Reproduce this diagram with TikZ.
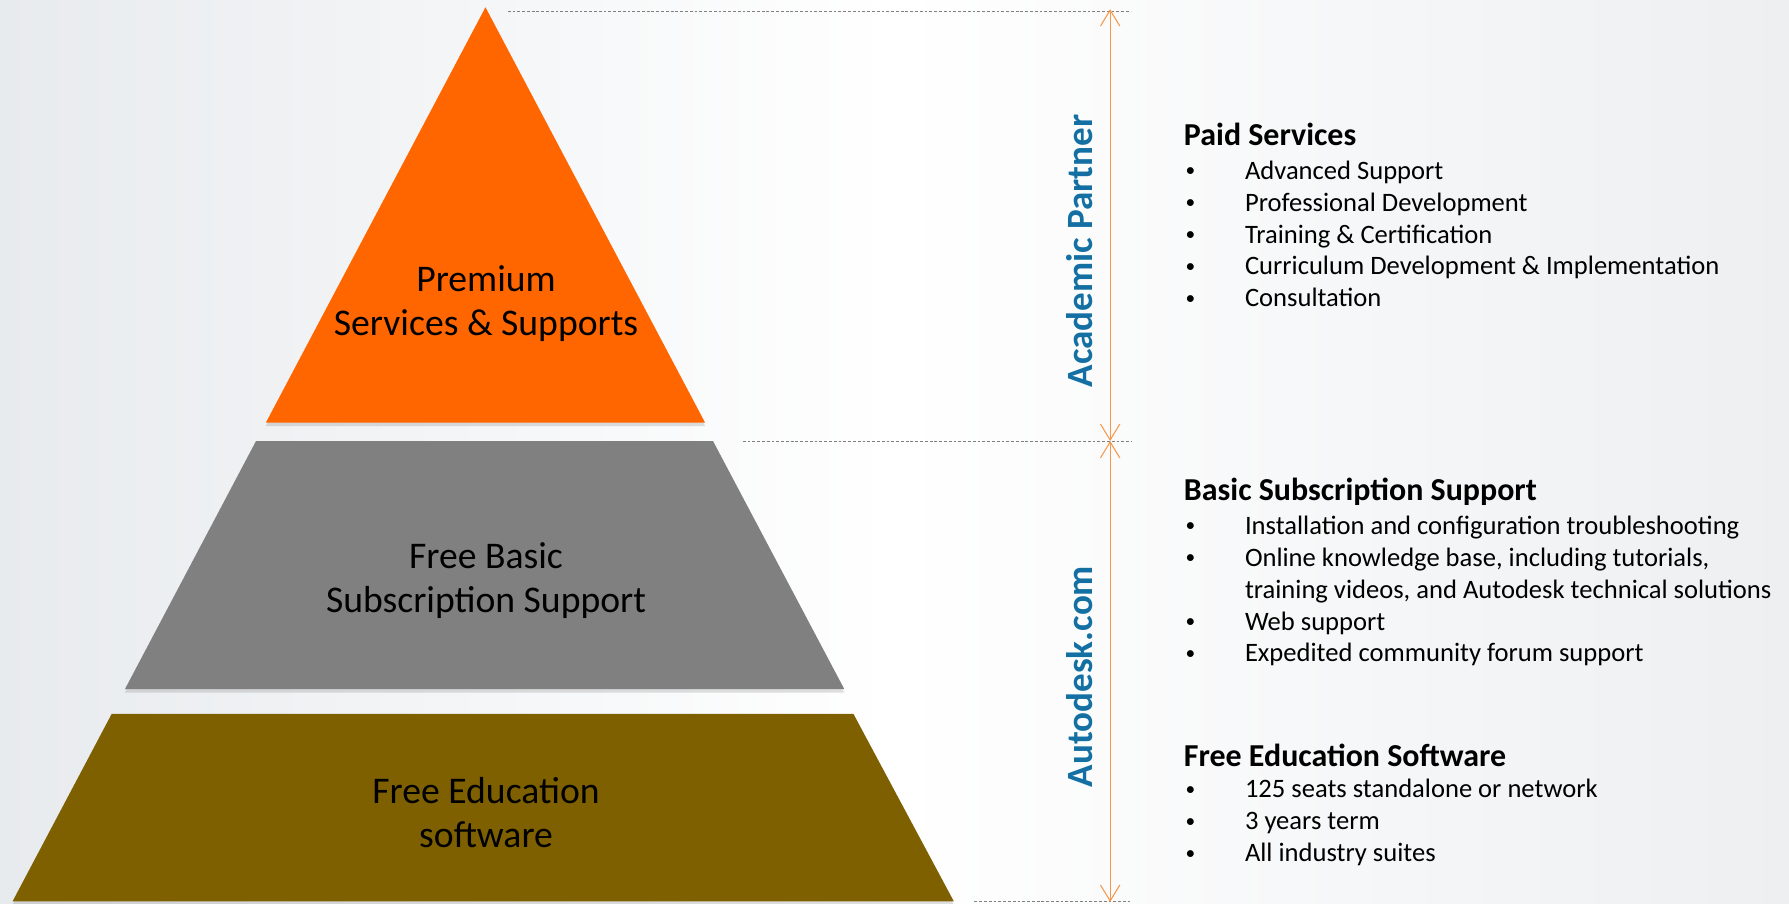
\documentclass[tikz,border=0pt]{standalone}
\usepackage{fontspec}
\setmainfont{Carlito}
\usetikzlibrary{arrows.meta}
\usetikzlibrary{shadows}

\definecolor{tierorange}{RGB}{255,102,0}
\definecolor{tiergray}{RGB}{128,128,128}
\definecolor{tierolive}{RGB}{127,96,0}
\definecolor{spanorange}{RGB}{247,150,70}
\definecolor{labelblue}{RGB}{20,112,163}
\definecolor{bgleft}{RGB}{232,235,238}
\definecolor{bgright}{RGB}{237,239,241}

\newcommand{\listbullet}{\makebox[54pt][l]{\hspace{2pt}\raisebox{2pt}{\fontsize{17}{17}\selectfont•}}}

\begin{document}
\begin{tikzpicture}[x=1pt, y=-1pt,
	tier/.style={drop shadow={shadow xshift=0pt, shadow yshift=-3pt, opacity=0.25}},
	tiertext/.style={align=center, inner sep=0pt, font=\fontsize{33}{39}\selectfont},
	sidelabel/.style={rotate=90, inner sep=0pt, text=labelblue, font=\bfseries\fontsize{32.5}{38}\selectfont},
	listtitle/.style={anchor=west, inner sep=0pt, font=\bfseries\fontsize{28}{34}\selectfont},
	listitems/.style={anchor=west, align=left, inner sep=0pt, font=\fontsize{23.3}{28}\selectfont},
	guide/.style={draw=black!50, line width=0.8pt, dash pattern=on 2.5pt off 1.7pt},
	span/.style={draw=spanorange, line width=0.9pt, {Straight Barb[length=14pt,width=17pt]}-{Straight Barb[length=14pt,width=17pt]}}]

	%background
	\shade[left color=bgleft, right color=bgright, middle color=white] (0,0) rectangle (1568,792);
	\useasboundingbox (0,0) rectangle (1568,792);

	%pyramid tiers
	\fill[tierorange, tier] (425.5,6.4) -- (618,370.5) -- (233,370.5) -- cycle;
	\fill[tiergray, tier] (224.3,386.7) -- (625,386.7) -- (740,604) -- (109.5,604) -- cycle;
	\fill[tierolive, tier] (97.9,625.7) -- (748,625.7) -- (836,790) -- (11,790) -- cycle;

	%tier labels
	\node[tiertext] (premium) at (426,266) {Premium\\Services \& Supports};
	\node[tiertext] (basic) at (426,509) {Free Basic\\Subscription Support};
	\node[tiertext] (education) at (426,712) {Free Education\\software};

	%guide lines
	\coordinate (guidetopL) at (445,10);
	\coordinate (guidetopR) at (991,10);
	\coordinate (guidemidL) at (651,386.5);
	\coordinate (guidemidR) at (992,386.5);
	\coordinate (guidebotL) at (854,790.5);
	\coordinate (guidebotR) at (990,790.5);
	\draw[guide] (guidetopL) -- (guidetopR);
	\draw[guide] (guidemidL) -- (guidemidR);
	\draw[guide] (guidebotL) -- (guidebotR);

	%spans
	\coordinate (spantop) at (973,8);
	\coordinate (spanmid) at (973,386.5);
	\coordinate (spanbot) at (973,790.5);
	\draw[span] (spanmid) -- (spantop);
	\draw[span] (spanmid) -- (spanbot);

	%span labels
	\node[sidelabel] (academic) at (946,220) {Academic Partner};
	\node[sidelabel] (autodesk) at (946,593) {Autodesk.com};

	%paid services
	\node[listtitle] (paidtitle) at (1037.5,118) {Paid Services};
	\node[listitems] (paidlist) at (1037,205) {\listbullet Advanced Support\\
		\listbullet Professional Development\\
		\listbullet Training \& Certification\\
		\listbullet Curriculum Development \& Implementation\\
		\listbullet Consultation};

	%basic subscription
	\node[listtitle] (basictitle) at (1037.5,431) {Basic Subscription Support};
	\node[listitems] (basiclist) at (1037,518) {\listbullet Installation and configuration troubleshooting\\
		\listbullet Online knowledge base, including tutorials,\\
		\hspace*{54pt}training videos, and Autodesk technical solutions\\
		\listbullet Web support\\
		\listbullet Expedited community forum support};

	%free software
	\node[listtitle] (freetitle) at (1037.5,662) {Free Education Software};
	\node[listitems] (freelist) at (1037,721) {\listbullet 125 seats standalone or network\\
		\listbullet 3 years term\\
		\listbullet All industry suites};
\end{tikzpicture}
\end{document}
